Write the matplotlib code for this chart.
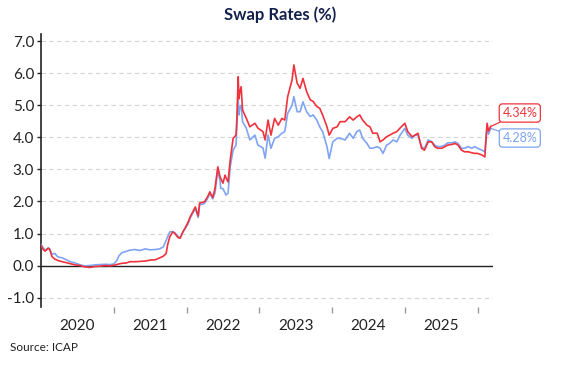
import matplotlib
matplotlib.use("Agg")
import matplotlib.pyplot as plt

plt.rcParams['font.family'] = ['Lato', 'DejaVu Sans']

# Decimal-year dates with the two swap-rate series (%)
dates = [2020.00, 2020.03, 2020.055, 2020.10, 2020.12, 2020.15, 2020.19, 2020.23, 2020.29, 2020.33,
         2020.40, 2020.47, 2020.54, 2020.60, 2020.67, 2020.74, 2020.81, 2020.88, 2020.95, 2021.00,
         2021.04, 2021.07, 2021.11, 2021.17, 2021.22, 2021.29, 2021.36, 2021.43, 2021.50, 2021.57,
         2021.63, 2021.68, 2021.72, 2021.74, 2021.77, 2021.81, 2021.84, 2021.88, 2021.91, 2021.95,
         2021.98, 2022.02, 2022.05, 2022.09, 2022.12, 2022.16, 2022.18, 2022.23, 2022.25, 2022.29,
         2022.32, 2022.36, 2022.39, 2022.43, 2022.46, 2022.47, 2022.50, 2022.53, 2022.54, 2022.57,
         2022.60, 2022.64, 2022.68, 2022.69, 2022.71, 2022.72, 2022.73, 2022.75, 2022.77, 2022.82,
         2022.87, 2022.94, 2022.98, 2023.05, 2023.08, 2023.12, 2023.16, 2023.21, 2023.26, 2023.31,
         2023.35, 2023.39, 2023.45, 2023.475, 2023.52, 2023.56, 2023.60, 2023.65, 2023.70, 2023.74,
         2023.79, 2023.83, 2023.87, 2023.93, 2023.96, 2023.98, 2024.01, 2024.07, 2024.11, 2024.18,
         2024.24, 2024.29, 2024.34, 2024.38, 2024.42, 2024.48, 2024.52, 2024.56, 2024.62, 2024.66,
         2024.70, 2024.75, 2024.79, 2024.84, 2024.89, 2024.93, 2025.00, 2025.04, 2025.10, 2025.14,
         2025.18, 2025.23, 2025.27, 2025.32, 2025.37, 2025.41, 2025.45, 2025.51, 2025.55, 2025.59,
         2025.65, 2025.69, 2025.73, 2025.78, 2025.82, 2025.87, 2025.92, 2025.96, 2026.00, 2026.06,
         2026.10, 2026.13, 2026.15, 2026.18]

red_series = [0.63, 0.50, 0.45, 0.54, 0.50, 0.28, 0.20, 0.16, 0.12, 0.10,
              0.06, 0.02, 0.00, -0.04, -0.06, -0.03, -0.02, 0.00, -0.01, 0.01,
              0.03, 0.05, 0.07, 0.08, 0.12, 0.12, 0.13, 0.14, 0.17, 0.18,
              0.24, 0.29, 0.38, 0.65, 0.90, 1.05, 1.00, 0.88, 0.85, 1.05,
              1.17, 1.35, 1.52, 1.70, 1.83, 1.55, 1.95, 1.98, 2.00, 2.15,
              2.30, 2.12, 2.40, 3.08, 2.77, 2.72, 2.57, 2.82, 2.75, 2.61,
              3.29, 3.97, 4.07, 4.50, 5.89, 5.20, 5.38, 5.58, 4.85, 4.60,
              4.33, 4.44, 4.29, 4.18, 3.92, 4.54, 4.07, 4.59, 4.38, 4.59,
              4.54, 5.27, 5.79, 6.26, 5.69, 5.53, 5.84, 5.43, 5.17, 5.12,
              4.96, 4.91, 4.70, 4.33, 4.07, 4.15, 4.28, 4.33, 4.49, 4.49,
              4.64, 4.54, 4.64, 4.70, 4.54, 4.38, 4.33, 4.13, 4.13, 3.86,
              3.92, 4.02, 4.07, 4.13, 4.18, 4.28, 4.44, 4.18, 4.02, 4.07,
              4.13, 3.66, 3.60, 3.86, 3.86, 3.71, 3.66, 3.66, 3.71, 3.76,
              3.78, 3.81, 3.76, 3.60, 3.55, 3.55, 3.52, 3.50, 3.50, 3.45,
              3.39, 4.44, 4.20, 4.34]

blue_series = [0.66, 0.55, 0.48, 0.55, 0.52, 0.35, 0.38, 0.27, 0.24, 0.20,
               0.12, 0.08, 0.02, -0.01, 0.00, 0.02, 0.03, 0.04, 0.03, 0.05,
               0.15, 0.30, 0.40, 0.44, 0.48, 0.50, 0.47, 0.52, 0.49, 0.50,
               0.52, 0.58, 0.79, 0.90, 1.05, 1.06, 1.02, 0.92, 0.86, 1.05,
               1.15, 1.30, 1.48, 1.65, 1.78, 1.50, 1.90, 1.92, 1.95, 2.10,
               2.25, 2.08, 2.26, 2.98, 2.65, 2.41, 2.40, 2.26, 2.20, 2.26,
               3.08, 3.60, 3.76, 4.30, 5.17, 4.70, 4.92, 5.00, 4.49, 4.29,
               3.92, 4.07, 3.76, 3.67, 3.35, 4.07, 3.66, 3.97, 4.02, 4.13,
               4.18, 4.75, 5.00, 5.27, 4.80, 4.80, 5.11, 4.80, 4.65, 4.70,
               4.54, 4.33, 4.18, 3.71, 3.34, 3.55, 3.86, 3.97, 3.97, 3.92,
               4.13, 3.97, 4.18, 4.23, 3.97, 3.81, 3.66, 3.66, 3.71, 3.66,
               3.50, 3.76, 3.81, 3.92, 3.86, 4.05, 4.28, 4.07, 3.97, 4.07,
               4.07, 3.71, 3.65, 3.92, 3.86, 3.76, 3.71, 3.72, 3.76, 3.83,
               3.83, 3.86, 3.81, 3.66, 3.66, 3.71, 3.66, 3.71, 3.66, 3.60,
               3.55, 4.33, 4.10, 4.28]

year_ticks = [2021, 2022, 2023, 2024, 2025, 2026]
year_labels = ['2020', '2021', '2022', '2023', '2024', '2025']
y_ticks = [-1.0, 0.0, 1.0, 2.0, 3.0, 4.0, 5.0, 6.0, 7.0]

RED = '#f0323c'
BLUE = '#7fa4f2'

fig = plt.figure(figsize=(5.62, 3.72), dpi=100)
ax = fig.add_axes([0.073, 0.175, 0.804, 0.734])

ax.plot(dates, blue_series, color=BLUE, lw=1.2, zorder=3)
ax.plot(dates, red_series, color=RED, lw=1.2, zorder=4)

ax.set_xlim(2020.0, 2026.21)
ax.set_ylim(-1.29, 7.23)

ax.set_yticks(y_ticks)
ax.set_yticklabels([f'{v:.1f}' for v in y_ticks])
ax.yaxis.grid(True, color='#d4d4d4', linestyle=(0, (4, 3)), lw=0.8)
ax.set_axisbelow(True)
ax.axhline(0, color='#222222', lw=1.0, zorder=2)

# x ticks at year boundaries, labels at mid-year
ax.set_xticks(year_ticks)
ax.set_xticklabels([])
ax.set_xticks([y + 0.5 for y in range(2020, 2026)], minor=True)
ax.set_xticklabels(year_labels, minor=True)
ax.tick_params(axis='x', which='major', length=4, width=1, color='#999999', pad=2)
ax.tick_params(axis='x', which='minor', length=0, labelsize=11, labelcolor='#222222', pad=9)
ax.tick_params(axis='y', length=3, width=1, color='#222222', labelsize=11, labelcolor='#222222', pad=2)

for s in ['top', 'right', 'bottom']:
    ax.spines[s].set_visible(False)
ax.spines['left'].set_color('#222222')
ax.spines['left'].set_linewidth(1.2)

ax.set_title('Swap Rates (%)', fontsize=12, fontweight='bold', color='#14214d', pad=10,
             x=0.53)

# End labels
ax.annotate(f'{red_series[-1]:.2f}%', xy=(dates[-1], red_series[-1]), xytext=(2026.58, 4.76),
            color=RED, fontsize=9, ha='center', va='center', annotation_clip=False,
            bbox=dict(boxstyle='round,pad=0.25', fc='white', ec=RED, lw=0.9),
            arrowprops=dict(arrowstyle='-', color=RED, lw=0.9, shrinkA=0, shrinkB=0))
ax.annotate(f'{blue_series[-1]:.2f}%', xy=(dates[-1], blue_series[-1]), xytext=(2026.58, 3.98),
            color=BLUE, fontsize=9, ha='center', va='center', annotation_clip=False,
            bbox=dict(boxstyle='round,pad=0.25', fc='white', ec=BLUE, lw=0.9),
            arrowprops=dict(arrowstyle='-', color=BLUE, lw=0.9, shrinkA=0, shrinkB=0))

fig.text(0.018, 0.067, 'Source: ICAP', fontsize=8.5, color='#222222', ha='left', va='center')

fig.savefig('out.png', dpi=100)
